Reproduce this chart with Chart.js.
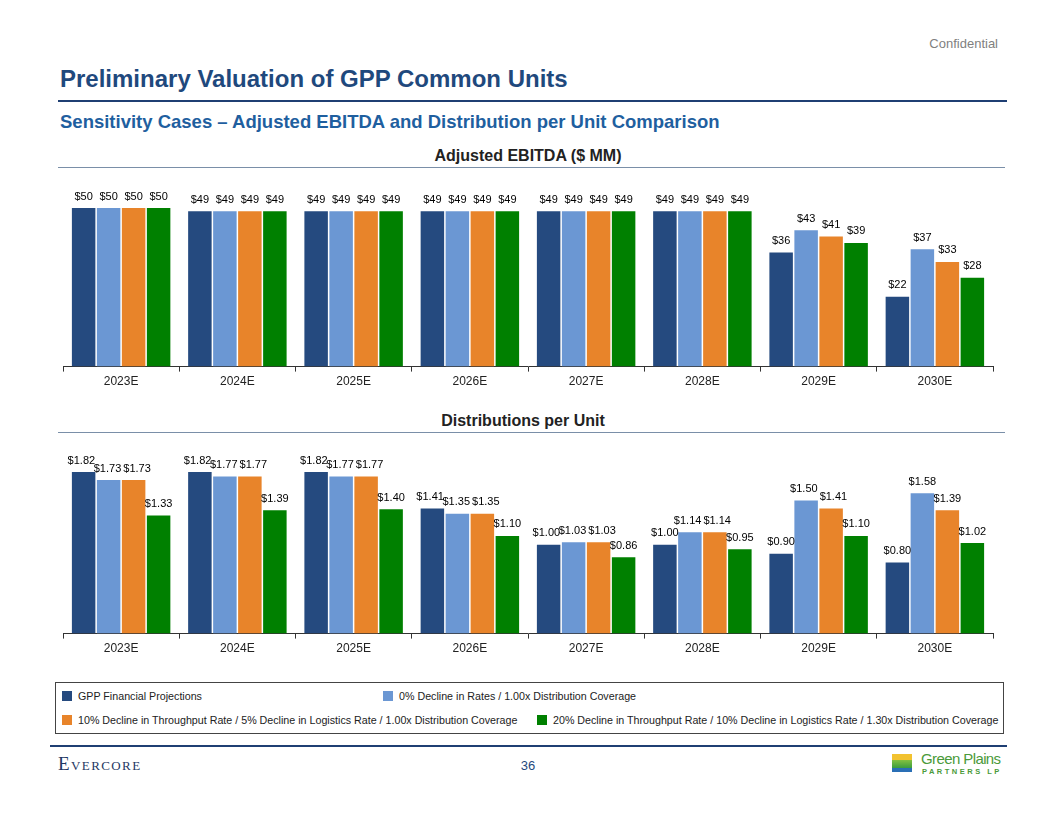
<!DOCTYPE html>
<html>
<head>
<meta charset="utf-8">
<script src="https://cdn.jsdelivr.net/npm/chart.js@4.4.0/dist/chart.umd.min.js"></script>
<style>
  body { margin: 0; width: 1056px; height: 816px; background: #fff; font-family: Arial, "Liberation Sans", sans-serif; position: relative; overflow: hidden; }
  .abs { position: absolute; }
  #conf { right: 58px; top: 36px; font-size: 13px; color: #7f7f7f; }
  #title { left: 60px; top: 65px; font-size: 24px; font-weight: bold; color: #1f497d; }
  #rule1 { left: 58px; top: 100px; width: 949px; height: 2px; background: #1f3f73; }
  #subtitle { left: 60px; top: 111px; font-size: 18.5px; font-weight: bold; color: #1f5f9f; }
  .ctitle { width: 1056px; text-align: center; font-size: 16px; font-weight: bold; color: #222; left: 0; }
  .crule { left: 58px; width: 947px; height: 1px; background: #7a8fa8; }
  #legend { left: 55px; top: 682px; width: 949px; height: 52px; border: 1px solid #444; box-sizing: border-box; }
  .li { position: absolute; font-size: 10.7px; color: #222; white-space: nowrap; }
  .li span { display: inline-block; width: 10px; height: 10px; margin-right: 6px; vertical-align: -1px; }
  #rule2 { left: 50px; top: 745px; width: 957px; height: 2px; background: #1f3f73; }
  #evercore { left: 58px; top: 753px; font-family: "Liberation Serif", "DejaVu Serif", serif; font-variant: small-caps; font-size: 19px; color: #1f3864; letter-spacing: 1.4px; }
  #page { left: 0; width: 1056px; text-align: center; top: 758px; font-size: 13px; color: #1f497d; }
  #gp { left: 892px; top: 753px; }
</style>
</head>
<body>
<div class="abs" id="conf">Confidential</div>
<div class="abs" id="title">Preliminary Valuation of GPP Common Units</div>
<div class="abs" id="rule1"></div>
<div class="abs" id="subtitle">Sensitivity Cases – Adjusted EBITDA and Distribution per Unit Comparison</div>

<div class="abs ctitle" style="top:147px;">Adjusted EBITDA ($ MM)</div>
<div class="abs crule" style="top:167px;"></div>
<canvas class="abs" id="ebitda" width="1056" height="240" style="left:0;top:171px;"></canvas>

<div class="abs ctitle" style="top:412px; left:-5px;">Distributions per Unit</div>
<div class="abs crule" style="top:432px;"></div>
<canvas class="abs" id="dpu" width="1056" height="240" style="left:0;top:438px;"></canvas>

<div class="abs" id="legend">
  <div class="li" style="left:6px;top:7px;"><span style="background:#254a7f"></span>GPP Financial Projections</div>
  <div class="li" style="left:327px;top:7px;"><span style="background:#6b97d3"></span>0% Decline in Rates / 1.00x Distribution Coverage</div>
  <div class="li" style="left:6px;top:31px;"><span style="background:#e8842a"></span>10% Decline in Throughput Rate / 5% Decline in Logistics Rate / 1.00x Distribution Coverage</div>
  <div class="li" style="left:481px;top:31px;"><span style="background:#008000"></span>20% Decline in Throughput Rate / 10% Decline in Logistics Rate / 1.30x Distribution Coverage</div>
</div>

<div class="abs" id="rule2"></div>
<div class="abs" id="evercore">Evercore</div>
<div class="abs" id="page">36</div>
<div class="abs" id="gp">
  <div style="position:absolute;left:0;top:1px;width:20px;height:18px;background:linear-gradient(#f2c230 0%, #f2c230 35%, #7fbf3f 36%, #3f9f3f 75%, #2a6fb5 76%);"></div>
  <div style="position:absolute;left:29px;top:-3px;font-size:15px;color:#4a9a3a;white-space:nowrap;letter-spacing:-0.6px;">Green Plains</div>
  <div style="position:absolute;left:30px;top:14px;font-size:7.5px;color:#4a9a3a;white-space:nowrap;letter-spacing:2.5px;font-weight:bold;">PARTNERS LP</div>
</div>

<script>
// Категории и значения
const categories = ['2023E', '2024E', '2025E', '2026E', '2027E', '2028E', '2029E', '2030E'];
const seriesNames = [
    'GPP Financial Projections',
    '0% Decline in Rates / 1.00x Distribution Coverage',
    '10% Decline in Throughput Rate / 5% Decline in Logistics Rate / 1.00x Distribution Coverage',
    '20% Decline in Throughput Rate / 10% Decline in Logistics Rate / 1.30x Distribution Coverage'
];
const seriesColors = ['#254a7f', '#6b97d3', '#e8842a', '#008000'];

// Adjusted EBITDA ($ MM)
const ebitdaGpp = [50, 49, 49, 49, 49, 49, 36, 22];
const ebitdaNoDecline = [50, 49, 49, 49, 49, 49, 43, 37];
const ebitda10 = [50, 49, 49, 49, 49, 49, 41, 33];
const ebitda20 = [50, 49, 49, 49, 49, 49, 39, 28];

// Distributions per Unit
const dpuGpp = [1.82, 1.82, 1.82, 1.41, 1.00, 1.00, 0.90, 0.80];
const dpuNoDecline = [1.73, 1.77, 1.77, 1.35, 1.03, 1.14, 1.50, 1.58];
const dpu10 = [1.73, 1.77, 1.77, 1.35, 1.03, 1.14, 1.41, 1.39];
const dpu20 = [1.33, 1.39, 1.40, 1.10, 0.86, 0.95, 1.10, 1.02];

// Подписи значений над столбцами (раздвигаем, если налезают друг на друга)
const valueLabels = {
    id: 'valueLabels',
    afterDatasetsDraw(chart, args, opts) {
        const ctx = chart.ctx;
        ctx.save();
        ctx.font = '11px Arial, "Liberation Sans", sans-serif';
        ctx.fillStyle = '#000';
        ctx.textAlign = 'center';
        ctx.textBaseline = 'bottom';
        const n = chart.data.labels.length;
        for (let j = 0; j < n; j++) {
            const items = chart.data.datasets.map((ds, i) => {
                const bar = chart.getDatasetMeta(i).data[j];
                const text = '$' + ds.data[j].toFixed(opts.digits);
                return { text, x: bar.x, y: bar.y - 6, w: ctx.measureText(text).width };
            });
            for (let k = 1; k < items.length; k++) {
                const a = items[k - 1], b = items[k];
                const gap = 2;
                const overlapX = (a.x + a.w / 2 + gap) - (b.x - b.w / 2);
                if (overlapX > 0 && Math.abs(a.y - b.y) < 12) {
                    a.x -= overlapX / 2;
                    b.x += overlapX / 2;
                }
            }
            items.forEach(it => ctx.fillText(it.text, it.x, it.y));
        }
        ctx.restore();
    }
};

function makeChart(id, values, yMax, digits) {
    const ctx = document.getElementById(id).getContext('2d');
    return new Chart(ctx, {
        type: 'bar',
        data: {
            labels: categories,
            datasets: values.map((v, i) => ({
                label: seriesNames[i],
                data: v,
                backgroundColor: seriesColors[i],
                categoryPercentage: 0.86,
                barPercentage: 0.94
            }))
        },
        options: {
            responsive: false,
            animation: false,
            layout: { padding: { left: 63, right: 63, top: 18, bottom: 19 } },
            plugins: {
                legend: { display: false },
                tooltip: { enabled: false },
                valueLabels: { digits: digits }
            },
            scales: {
                x: {
                    grid: { drawOnChartArea: false, tickLength: 5, color: '#333' },
                    border: { color: '#333', width: 1 },
                    ticks: { color: '#222', padding: 3, font: { size: 12, family: 'Arial, "Liberation Sans", sans-serif' } }
                },
                y: { display: false, min: 0, max: yMax }
            }
        },
        plugins: [valueLabels]
    });
}

makeChart('ebitda', [ebitdaGpp, ebitdaNoDecline, ebitda10, ebitda20], 56, 0);
makeChart('dpu', [dpuGpp, dpuNoDecline, dpu10, dpu20], 2.0, 2);
</script>
</body>
</html>
